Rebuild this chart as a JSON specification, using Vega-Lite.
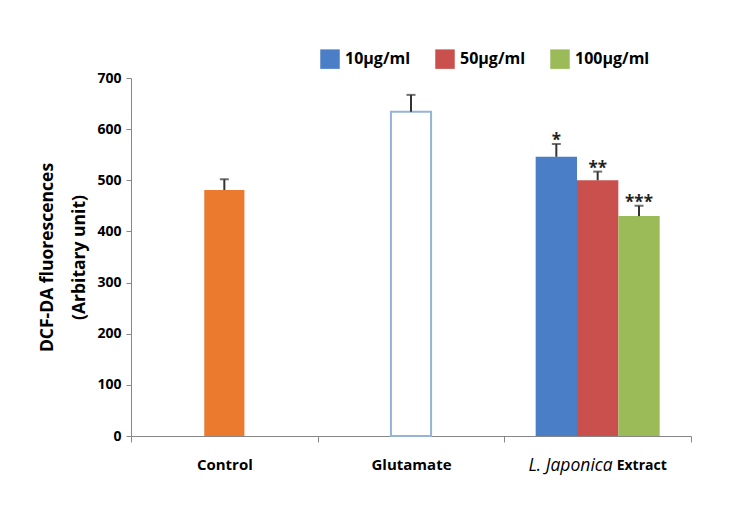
{
  "$schema": "https://vega.github.io/schema/vega-lite/v6.json",
  "width": 560,
  "height": 358,
  "autosize": "none",
  "padding": {"left": 131, "top": 78, "right": 52, "bottom": 84},
  "background": "white",
  "config": {
    "view": {"stroke": null},
    "font": "Open Sans",
    "axis": {"domainColor": "#868686", "tickColor": "#868686", "labelColor": "#000000", "titleColor": "#000000", "grid": false}
  },
  "data": {
    "values": [
      {"group": "Control", "dose": null, "value": 481, "hi": 502, "star": "", "lab1": "", "lab2": ""},
      {"group": "Glutamate", "dose": null, "value": 634, "hi": 667, "star": "", "lab1": "", "lab2": ""},
      {"group": "L. Japonica Extract", "dose": "10µg/ml", "value": 546, "hi": 571, "star": "*", "lab1": "L. Japonica", "lab2": "Extract"},
      {"group": "L. Japonica Extract", "dose": "50µg/ml", "value": 500, "hi": 517, "star": "**", "lab1": "", "lab2": ""},
      {"group": "L. Japonica Extract", "dose": "100µg/ml", "value": 430, "hi": 450, "star": "***", "lab1": "", "lab2": ""}
    ]
  },
  "encoding": {
    "x": {
      "field": "group",
      "type": "nominal",
      "sort": ["Control", "Glutamate", "L. Japonica Extract"],
      "scale": {"paddingInner": 0, "paddingOuter": 0},
      "axis": {
        "title": null,
        "labelAngle": 0,
        "tickBand": "extent",
        "tickSize": 6,
        "labelPadding": 15,
        "labelFontSize": 15,
        "labelFontWeight": "bold",
        "labelExpr": "datum.value == 'L. Japonica Extract' ? '' : datum.value"
      }
    },
    "y": {
      "field": "value",
      "type": "quantitative",
      "scale": {"domain": [0, 700], "nice": false},
      "axis": {
        "values": [0, 100, 200, 300, 400, 500, 600, 700],
        "tickSize": 5,
        "labelPadding": 5,
        "labelFontSize": 14,
        "labelFontWeight": "bold",
        "title": ["DCF-DA fluorescences", "(Arbitary unit)"],
        "titleFontSize": 17.5,
        "titleFontWeight": "bold",
        "titleLineHeight": 32,
        "titlePadding": 8
      }
    }
  },
  "layer": [
    {
      "transform": [{"filter": "datum.group == 'Control'"}],
      "mark": {"type": "bar", "color": "#EB7A2E", "width": {"band": 0.215}}
    },
    {
      "transform": [{"filter": "datum.group == 'Glutamate'"}],
      "mark": {"type": "bar", "fill": "white", "stroke": "#95B3D7", "strokeWidth": 2, "width": {"band": 0.215}}
    },
    {
      "transform": [{"filter": "datum.dose == null"}],
      "mark": {"type": "rule", "color": "#333333", "strokeWidth": 2},
      "encoding": {"y2": {"field": "hi"}}
    },
    {
      "transform": [{"filter": "datum.dose == null"}],
      "mark": {"type": "tick", "color": "#333333", "size": 9, "thickness": 2},
      "encoding": {"y": {"field": "hi", "type": "quantitative"}}
    },
    {
      "transform": [{"filter": "datum.dose != null"}],
      "mark": {"type": "bar"},
      "encoding": {
        "xOffset": {"field": "dose", "type": "nominal", "sort": ["10µg/ml", "50µg/ml", "100µg/ml"], "scale": {"paddingInner": 0, "paddingOuter": 0.758}},
        "color": {
          "field": "dose",
          "type": "nominal",
          "sort": ["10µg/ml", "50µg/ml", "100µg/ml"],
          "scale": {"domain": ["10µg/ml", "50µg/ml", "100µg/ml"], "range": ["#4A7EC6", "#C9504D", "#9BBB59"]},
          "legend": {
            "orient": "none",
            "direction": "horizontal",
            "legendX": 189,
            "legendY": -29,
            "title": null,
            "symbolType": "square",
            "symbolSize": 380,
            "symbolStrokeWidth": 0,
            "labelFontSize": 16,
            "labelFontWeight": "bold",
            "labelColor": "#000000",
            "labelOffset": 5,
            "columnPadding": 24
          }
        }
      }
    },
    {
      "transform": [{"filter": "datum.dose != null"}],
      "mark": {"type": "rule", "color": "#333333", "strokeWidth": 2},
      "encoding": {
        "xOffset": {"field": "dose", "type": "nominal", "sort": ["10µg/ml", "50µg/ml", "100µg/ml"]},
        "y2": {"field": "hi"}
      }
    },
    {
      "transform": [{"filter": "datum.dose != null"}],
      "mark": {"type": "tick", "color": "#333333", "size": 9, "thickness": 2},
      "encoding": {
        "xOffset": {"field": "dose", "type": "nominal", "sort": ["10µg/ml", "50µg/ml", "100µg/ml"]},
        "y": {"field": "hi", "type": "quantitative"}
      }
    },
    {
      "transform": [{"filter": "datum.dose != null"}],
      "mark": {"type": "text", "fontSize": 17, "fontWeight": "bold", "color": "#222222", "baseline": "alphabetic", "dy": 2},
      "encoding": {
        "xOffset": {"field": "dose", "type": "nominal", "sort": ["10µg/ml", "50µg/ml", "100µg/ml"]},
        "y": {"field": "hi", "type": "quantitative"},
        "text": {"field": "star"}
      }
    },
    {
      "transform": [{"filter": "datum.lab1 != ''"}],
      "mark": {"type": "text", "fontSize": 17.5, "fontStyle": "italic", "color": "#000000", "align": "right", "baseline": "middle", "dx": 15, "dy": 30},
      "encoding": {"y": {"datum": 0}, "text": {"field": "lab1"}}
    },
    {
      "transform": [{"filter": "datum.lab2 != ''"}],
      "mark": {"type": "text", "fontSize": 14, "fontWeight": "bold", "color": "#000000", "align": "left", "baseline": "middle", "dx": 19, "dy": 30},
      "encoding": {"y": {"datum": 0}, "text": {"field": "lab2"}}
    }
  ]
}
